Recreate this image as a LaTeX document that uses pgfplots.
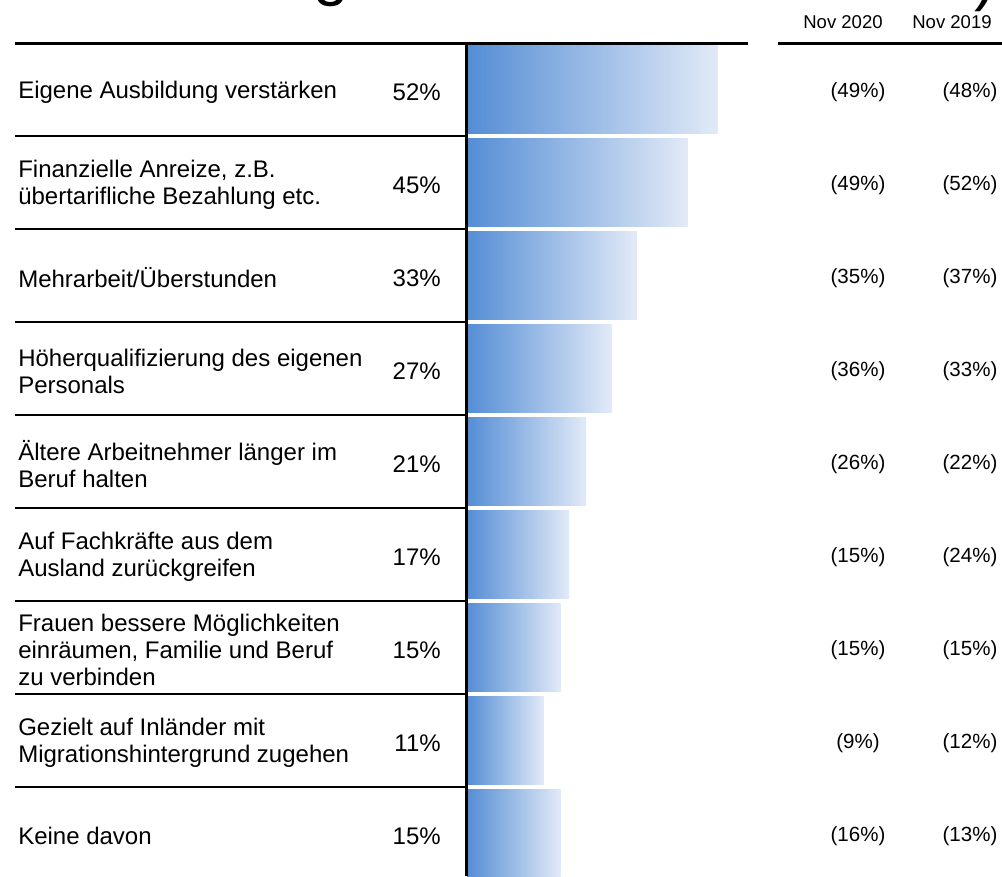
\documentclass[border=0pt]{standalone}
\usepackage{pgfplots}
\pgfplotsset{compat=1.18}
\usepackage{pgfplotstable}
\usepackage{fontspec}
\setmainfont{Liberation Sans}

\pgfplotstableread{
row v nov20 nov19
0 52 49 48
1 45 49 52
2 33 35 37
3 27 36 33
4 21 26 22
5 17 15 24
6 15 15 15
7 11 9 12
8 15 16 13
}\data

\definecolor{barL}{RGB}{84,141,213}
\definecolor{barR}{RGB}{226,234,247}

\begin{document}
\begin{tikzpicture}[x=0.75pt,y=-0.75pt]
\useasboundingbox (0,0) rectangle (1002,876);
% cropped title remnants
\node[anchor=base west, inner sep=0, font=\fontsize{48}{48}\selectfont] at (313,-7) {g};
\node[anchor=base west, inner sep=0, font=\fontsize{48}{48}\selectfont] at (974,-2) {)};
\begin{axis}[
  at={(350.25pt,-657pt)}, anchor=south west,
  scale only axis, width=210.75pt, height=624.75pt,
  xmin=0, xmax=66.3, ymin=-0.5, ymax=8.457, y dir=reverse,
  hide axis,
  xbar, bar width=66pt, bar shift=0pt,
]
\pgfplotsinvokeforeach{0,...,8}{
\addplot[draw=none, left color=barL, right color=barR, restrict y to domain=#1:#1]
  table[x expr=\thisrow{v}+7.1, y=row]{\data};
}
\end{axis}
\draw[line width=2.25pt] (15,43) -- (748,43);
\draw[line width=2.25pt] (778,43) -- (1002,43);
\draw[line width=2.25pt] (466,43) -- (466,876);
\foreach \k in {1,...,8} \draw[line width=1.5pt] (15,{43+93*\k}) -- (466,{43+93*\k});
\node[inner sep=0, font=\fontsize{13.9}{16}\selectfont] at (843,22) {Nov 2020};
\node[inner sep=0, font=\fontsize{13.9}{16}\selectfont] at (952,22) {Nov 2019};
\foreach \i/\lab/\p/\a/\b in {
  0/{Eigene Ausbildung verstärken}/52/49/48,
  1/{Finanzielle Anreize, z.B.\\übertarifliche Bezahlung etc.}/45/49/52,
  2/{Mehrarbeit/Überstunden}/33/35/37,
  3/{Höherqualifizierung des eigenen\\Personals}/27/36/33,
  4/{Ältere Arbeitnehmer länger im\\Beruf halten}/21/26/22,
  5/{Auf Fachkräfte aus dem\\Ausland zurückgreifen}/17/15/24,
  6/{Frauen bessere Möglichkeiten\\einräumen, Familie und Beruf\\zu verbinden}/15/15/15,
  7/{Gezielt auf Inländer mit\\Migrationshintergrund zugehen}/11/9/12,
  8/{Keine davon}/15/16/13}{
  \node[anchor=west, align=left, inner sep=0, font=\fontsize{18}{20.25}\selectfont] at (18,{92+93*\i}) {\lab};
  \node[anchor=east, inner sep=0, font=\fontsize{18}{20.25}\selectfont] at (441,{92+93*\i}) {\p\%};
  \node[inner sep=0, font=\fontsize{15.4}{18}\selectfont] at (858,{92+93*\i}) {(\a\%)};
  \node[inner sep=0, font=\fontsize{15.4}{18}\selectfont] at (970,{92+93*\i}) {(\b\%)};
}
\end{tikzpicture}
\end{document}
